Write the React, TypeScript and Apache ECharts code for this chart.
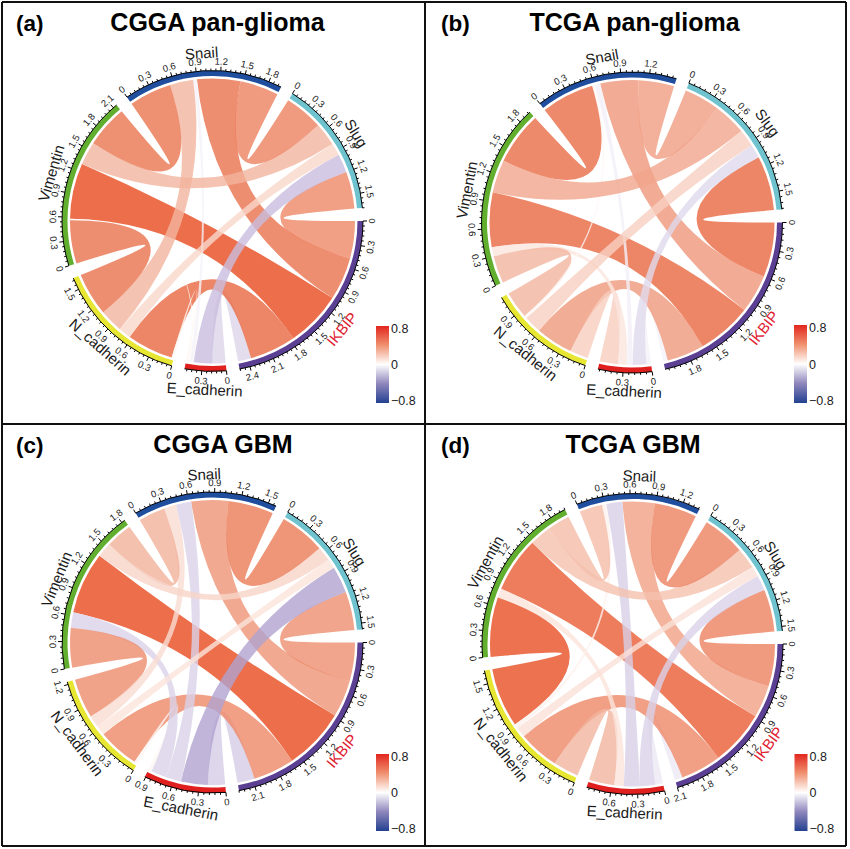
import React, { useEffect, useRef } from "react";
import * as echarts from "echarts";

const sectorNames = ["IKBIP", "E_cadherin", "N_cadherin", "Vimentin", "Snail", "Slug"];
const sectorColors = ["#5B3F93", "#E0201F", "#E6E633", "#62AE2F", "#1F4E9E", "#6FC3CF"];
const nameColors = ["#E0202F", "#1A1A1A", "#1A1A1A", "#1A1A1A", "#1A1A1A", "#1A1A1A"];

// Pair order of the correlation lists below
const pairs = [
  [0, 1], [0, 2], [0, 3], [0, 4], [0, 5],
  [1, 2], [1, 3], [1, 4], [1, 5],
  [2, 3], [2, 4], [2, 5],
  [3, 4], [3, 5],
  [4, 5],
];
const cggaPanGlioma = [-0.17, 0.6, 0.72, 0.56, 0.48, 0.03, 0.02, -0.05, -0.24, 0.56, 0.3, 0.16, 0.55, 0.3, 0.5];
const tcgaPanGlioma = [-0.05, 0.41, 0.6, 0.42, 0.6, 0.2, 0.1, -0.06, -0.15, 0.3, 0.03, 0.19, 0.58, 0.36, 0.39];
const cggaGbm = [-0.2, 0.48, 0.72, 0.43, 0.45, 0.04, -0.18, -0.18, -0.31, 0.46, 0.14, 0.11, 0.31, 0.17, 0.53];
const tcgaGbm = [-0.09, 0.48, 0.65, 0.38, 0.5, 0.3, 0.11, -0.19, -0.18, 0.7, 0.05, 0.12, 0.27, 0.25, 0.5];
const panelValues = [cggaPanGlioma, tcgaPanGlioma, cggaGbm, tcgaGbm];

const panelTitles = ["CGGA pan-glioma", "TCGA pan-glioma", "CGGA GBM", "TCGA GBM"];
const panelLetters = ["(a)", "(b)", "(c)", "(d)"];
const legendTicks = ["0.8", "0", "\u22120.8"];

// Layout
const panelCenters = [[212.5, 221], [632, 222.5], [212.5, 642.5], [632.5, 644]];
const titleCenters = [[217.5, 23], [634.5, 23], [223, 445.5], [633, 445.5]];
const letterLefts = [[16, 23], [441, 23], [16, 445], [441, 445]];
const legendBoxes = [[376, 326, 13, 77], [794, 325, 13, 78], [376, 754, 13, 77], [794.5, 754, 13, 77]];
const GAP = 5;
const R_LINK = 142.5;
const R_RING_IN = 145;
const R_RING_OUT = 150.5;
const R_TICK_MAJOR = 154.5;
const R_TICK_MINOR = 152.5;
const R_TICK_LABEL = 160;
const R_NAME = 168.5;
const FONT = "Liberation Sans, Arial, sans-serif";

const rad = (d: number) => (d * Math.PI) / 180;
const pt = (c: number[], r: number, deg: number) => [c[0] + r * Math.cos(rad(deg)), c[1] - r * Math.sin(rad(deg))];
const f = (n: number) => n.toFixed(2);

const matrixOf = (vals: number[]) => {
  const m = sectorNames.map(() => sectorNames.map(() => 0));
  pairs.forEach(([a, b], k) => {
    m[a][b] = vals[k];
    m[b][a] = vals[k];
  });
  return m;
};

// Sector start angles and link positions, walking clockwise from angle 0.
const layoutOf = (vals: number[]) => {
  const m = matrixOf(vals);
  const n = sectorNames.length;
  const sizes = m.map((row) => row.reduce((s, v) => s + Math.abs(v), 0));
  const total = sizes.reduce((a, b) => a + b, 0);
  const k = (360 - GAP * n) / total;
  const starts: number[] = [];
  let a = 0;
  sizes.forEach((s) => {
    starts.push(a);
    a -= s * k + GAP;
  });
  const spans: Record<string, number[]> = {};
  for (let i = 0; i < n; i++) {
    let p = starts[i];
    for (let o = 1; o < n; o++) {
      const j = (i - o + n) % n;
      const w = Math.abs(m[i][j]) * k;
      spans[i + "-" + j] = [p, p - w];
      p -= w;
    }
  }
  return { sizes, k, starts, spans };
};
const layouts = panelValues.map(layoutOf);

const posStops = [[0, 255, 255, 255], [0.25, 245, 192, 174], [0.55, 234, 117, 80], [0.72, 231, 74, 30], [0.8, 228, 40, 25]];
const negStops = [[0, 255, 255, 255], [0.2, 214, 205, 230], [0.31, 178, 162, 208], [0.8, 35, 60, 140]];
const linkColor = (v: number) => {
  const stops = v >= 0 ? posStops : negStops;
  const x = Math.abs(v);
  for (let i = 1; i < stops.length; i++) {
    if (x <= stops[i][0]) {
      const t = (x - stops[i - 1][0]) / (stops[i][0] - stops[i - 1][0]);
      const c = [1, 2, 3].map((q) => Math.round(stops[i - 1][q] + (stops[i][q] - stops[i - 1][q]) * t));
      return `rgba(${c[0]},${c[1]},${c[2]},0.8)`;
    }
  }
  return "rgba(228,40,25,0.8)";
};

const linkRows: number[][] = [];
panelValues.forEach((vals, p) => pairs.forEach(([a, b], k) => linkRows.push([p, a, b, vals[k]])));
const sectorRows: number[][] = [];
panelCenters.forEach((_, p) => sectorNames.forEach((_n, i) => sectorRows.push([p, i])));

const textRotation = (deg: number) => {
  const s = Math.sin(rad(deg));
  return rad(s >= 0 ? deg - 90 : deg + 90);
};

const renderLink = (params: any) => {
  const [p, a, b, v] = linkRows[params.dataIndex];
  const c = panelCenters[p];
  const L = layouts[p];
  const sa = L.spans[a + "-" + b];
  const sb = L.spans[b + "-" + a];
  const a0 = pt(c, R_LINK, sa[0]);
  const a1 = pt(c, R_LINK, sa[1]);
  const b0 = pt(c, R_LINK, sb[0]);
  const b1 = pt(c, R_LINK, sb[1]);
  const arc = (q: number[]) => `A${R_LINK} ${R_LINK} 0 0 1 ${f(q[0])} ${f(q[1])}`;
  const d =
    `M${f(a0[0])} ${f(a0[1])}${arc(a1)}Q${c[0]} ${c[1]} ${f(b0[0])} ${f(b0[1])}` +
    `${arc(b1)}Q${c[0]} ${c[1]} ${f(a0[0])} ${f(a0[1])}Z`;
  return { type: "path", shape: { pathData: d }, style: { fill: linkColor(v), stroke: "none" }, silent: true };
};

const renderSector = (params: any) => {
  const [p, i] = sectorRows[params.dataIndex];
  const c = panelCenters[p];
  const L = layouts[p];
  const start = L.starts[i];
  const size = L.sizes[i];
  const end = start - size * L.k;
  const big = start - end > 180 ? 1 : 0;
  const ro0 = pt(c, R_RING_OUT, start);
  const ro1 = pt(c, R_RING_OUT, end);
  const ri0 = pt(c, R_RING_IN, start);
  const ri1 = pt(c, R_RING_IN, end);
  const ring =
    `M${f(ro0[0])} ${f(ro0[1])}A${R_RING_OUT} ${R_RING_OUT} 0 ${big} 1 ${f(ro1[0])} ${f(ro1[1])}` +
    `L${f(ri1[0])} ${f(ri1[1])}A${R_RING_IN} ${R_RING_IN} 0 ${big} 0 ${f(ri0[0])} ${f(ri0[1])}Z`;
  let axis = `M${f(ro0[0])} ${f(ro0[1])}A${R_RING_OUT} ${R_RING_OUT} 0 ${big} 1 ${f(ro1[0])} ${f(ro1[1])}`;
  const children: any[] = [
    { type: "path", shape: { pathData: ring }, style: { fill: sectorColors[i] }, silent: true },
  ];
  const steps = Math.floor(size / 0.06 + 1e-6);
  for (let t = 0; t <= steps; t++) {
    const deg = start - t * 0.06 * L.k;
    const major = t % 5 === 0;
    const q0 = pt(c, R_RING_OUT, deg);
    const q1 = pt(c, major ? R_TICK_MAJOR : R_TICK_MINOR, deg);
    axis += `M${f(q0[0])} ${f(q0[1])}L${f(q1[0])} ${f(q1[1])}`;
    if (major) {
      const lp = pt(c, R_TICK_LABEL, deg);
      const label = t === 0 ? "0" : ((t * 0.06).toFixed(1));
      children.push({
        type: "text",
        x: lp[0],
        y: lp[1],
        rotation: textRotation(deg),
        style: { text: label, fontSize: 9.5, fontFamily: FONT, fill: "#1A1A1A", align: "center", verticalAlign: "middle" },
        silent: true,
      });
    }
  }
  children.push({
    type: "path",
    shape: { pathData: axis },
    style: { fill: "none", stroke: "#000", lineWidth: 1 },
    silent: true,
  });
  const mid = (start + end) / 2;
  const np = pt(c, R_NAME, mid);
  children.push({
    type: "text",
    x: np[0],
    y: np[1],
    rotation: textRotation(mid),
    style: { text: sectorNames[i], fontSize: 15, fontFamily: FONT, fill: nameColors[i], align: "center", verticalAlign: "middle" },
    silent: true,
  });
  return { type: "group", children };
};

const legendGraphics = legendBoxes.flatMap(([x, y, w, h]) => [
  {
    type: "rect",
    shape: { x, y, width: w, height: h },
    style: {
      fill: new echarts.graphic.LinearGradient(0, 0, 0, 1, [
        { offset: 0, color: "#E2261E" },
        { offset: 0.25, color: "#F0916F" },
        { offset: 0.5, color: "#FFFFFF" },
        { offset: 0.75, color: "#8F86BC" },
        { offset: 1, color: "#234191" },
      ]),
    },
  },
  ...legendTicks.map((t, k) => ({
    type: "text",
    x: x + w + 2,
    y: y + 3 + k * ((h - 5) / 2),
    style: { text: t, fontSize: 12.5, fontFamily: FONT, fill: "#1A1A1A", align: "left", verticalAlign: "middle" },
  })),
]);

const frameLines = [
  [2, 2, 846, 2], [2, 424, 846, 424], [2, 846, 846, 846],
  [2, 2, 2, 846], [425, 2, 425, 846], [846, 2, 846, 846],
];

export default function App() {
  const ref = useRef<HTMLDivElement>(null);
  useEffect(() => {
    if (!ref.current) return;
    const chart = echarts.init(ref.current, undefined, { renderer: "svg" });
    chart.setOption({
      animation: false,
      backgroundColor: "#fff",
      title: panelTitles.map((t, i) => ({
        text: t,
        left: titleCenters[i][0],
        top: titleCenters[i][1] - 14,
        padding: 0,
        textAlign: "center",
        textStyle: { fontSize: 25, fontWeight: "bold", fontFamily: FONT, color: "#000" },
      })),
      graphic: [
        ...frameLines.map(([x1, y1, x2, y2]) => ({
          type: "line",
          shape: { x1, y1, x2, y2 },
          style: { stroke: "#111", lineWidth: 2 },
        })),
        ...panelLetters.map((t, i) => ({
          type: "text",
          x: letterLefts[i][0],
          y: letterLefts[i][1],
          style: { text: t, fontSize: 22.5, fontWeight: "bold", fontFamily: FONT, fill: "#000", align: "left", verticalAlign: "middle" },
        })),
        ...legendGraphics,
      ],
      series: [
        { type: "custom", coordinateSystem: "none", data: linkRows, renderItem: renderLink, silent: true, animation: false },
        { type: "custom", coordinateSystem: "none", data: sectorRows, renderItem: renderSector, silent: true, animation: false },
      ],
    });
    return () => chart.dispose();
  }, []);
  return <div ref={ref} style={{ position: "absolute", left: 0, top: 0, width: 850, height: 849 }} />;
}
